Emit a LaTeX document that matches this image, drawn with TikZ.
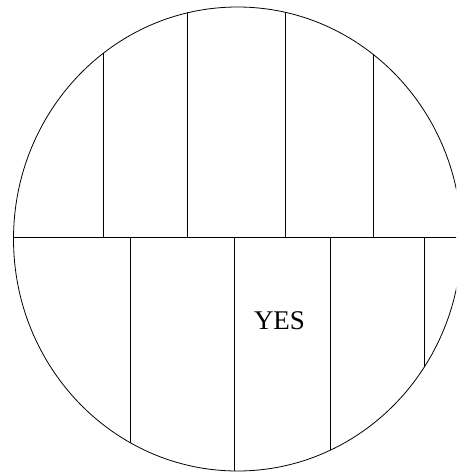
\documentclass[tikz,border=0pt]{standalone}
\usepackage{fontspec}
\setmainfont{Liberation Serif}
\begin{document}
\begin{tikzpicture}[x=1pt,y=-1pt,line width=0.8pt]
  % Frame of the picture
  \useasboundingbox (0,0) rectangle (456,473);
  \clip (0,0) rectangle (456,473);

  % Lines cut off by the oval
  \begin{scope}
    \clip (237.5,239) ellipse [x radius=224,y radius=232];
    \draw (0,237) -- (470,237);
    % upper strips
    \foreach \xa in {103.5,187.5,285.5,373.5}
      \draw (\xa,0) -- (\xa,237);
    % lower strips
    \foreach \xb in {130,234,330,424}
      \draw (\xb,237) -- (\xb,480);
  \end{scope}

  % Draw the oval
  \draw (237.5,239) ellipse [x radius=224,y radius=232];

  % Label
  \node[inner sep=0pt,font=\fontsize{27}{32}\selectfont] (yes) at (279.5,321) {YES};
\end{tikzpicture}
\end{document}
